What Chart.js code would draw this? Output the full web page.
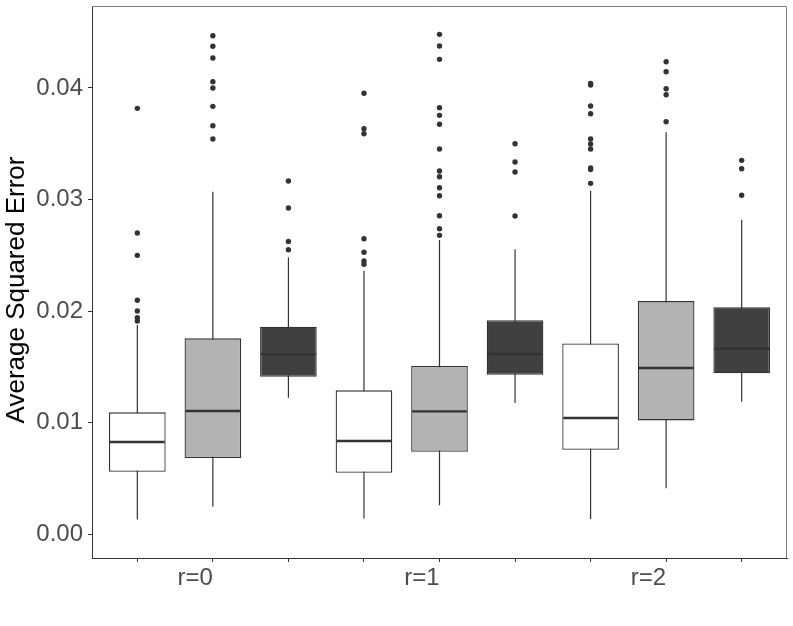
<!DOCTYPE html>
<html>
<head>
<meta charset="utf-8">
<script src="https://cdn.jsdelivr.net/npm/chart.js@4.4.1/dist/chart.umd.min.js"></script>
<style>
  html, body { margin: 0; padding: 0; background: #fff; }
  #wrap { width: 793px; height: 626px; }
</style>
</head>
<body>
<div id="wrap"><canvas id="boxChart" width="793" height="626"></canvas></div>
<script>
// box positions on the x axis, 3 boxes per group
const positions = [1, 2, 3, 4, 5, 6, 7, 8, 9];
const xTickLabels = ['', 'r=0', '', '', 'r=1', '', '', 'r=2', ''];
const yTicks = [0, 0.01, 0.02, 0.03, 0.04];
const yTitle = 'Average Squared Error';

// box statistics
const whiskerLow  = [0.00134, 0.00247, 0.01224, 0.00143, 0.00260, 0.01177, 0.00137, 0.00412, 0.01188];
const q1          = [0.00561, 0.00684, 0.01412, 0.00552, 0.00740, 0.01430, 0.00758, 0.01021, 0.01443];
const medians     = [0.00827, 0.01105, 0.01613, 0.00836, 0.01102, 0.01616, 0.01042, 0.01490, 0.01663];
const q3          = [0.01093, 0.01756, 0.01860, 0.01290, 0.01508, 0.01918, 0.01711, 0.02090, 0.02034];
const whiskerHigh = [0.01875, 0.03070, 0.02482, 0.02362, 0.02637, 0.02554, 0.03079, 0.03602, 0.02819];

// outliers per box
const outliers1 = [0.03817, 0.0270, 0.0250, 0.02097, 0.02001, 0.01941, 0.01911];
const outliers2 = [0.04468, 0.04373, 0.04268, 0.04056, 0.03999, 0.03835, 0.03661, 0.03542];
const outliers3 = [0.03166, 0.02924, 0.02625, 0.02550];
const outliers4 = [0.03952, 0.03634, 0.03590, 0.02649, 0.02527, 0.02450, 0.02420];
const outliers5 = [0.04480, 0.04375, 0.04256, 0.03823, 0.03754, 0.03674, 0.03453, 0.03256, 0.03204, 0.03106, 0.03034, 0.02855, 0.02738, 0.02679];
const outliers6 = [0.03500, 0.03336, 0.03246, 0.02852];
const outliers7 = [0.04041, 0.04026, 0.03838, 0.03769, 0.03542, 0.03497, 0.03453, 0.03282, 0.03268, 0.03145];
const outliers8 = [0.04235, 0.04145, 0.03993, 0.03939, 0.03697];
const outliers9 = [0.03351, 0.03276, 0.03038];
const allOutliers = [outliers1, outliers2, outliers3, outliers4, outliers5, outliers6, outliers7, outliers8, outliers9];

const palette = ['#ffffff', '#b3b3b3', '#404040'];
const lineColor = '#333333';
const fontFamily = "'Liberation Sans', Arial, Helvetica, sans-serif";

const boxData = positions.map((p, i) => ({ x: p, y: [q1[i], q3[i]] }));
const outlierData = [];
allOutliers.forEach((list, i) => {
    list.forEach(v => outlierData.push({ x: positions[i], y: v }));
});

// whiskers behind the boxes, medians on top, panel border, y title
const boxExtras = {
    id: 'boxExtras',
    beforeDatasetsDraw(chart) {
        const ctx = chart.ctx;
        const xs = chart.scales.x, ys = chart.scales.y;
        ctx.save();
        ctx.strokeStyle = lineColor;
        ctx.lineWidth = 1.2;
        positions.forEach((p, i) => {
            const x = xs.getPixelForValue(p);
            ctx.beginPath();
            ctx.moveTo(x, ys.getPixelForValue(whiskerLow[i]));
            ctx.lineTo(x, ys.getPixelForValue(whiskerHigh[i]));
            ctx.stroke();
        });
        ctx.restore();
    },
    afterDatasetsDraw(chart) {
        const ctx = chart.ctx;
        const ys = chart.scales.y;
        const bars = chart.getDatasetMeta(0).data;
        ctx.save();
        ctx.strokeStyle = lineColor;
        ctx.lineWidth = 2.4;
        bars.forEach((bar, i) => {
            const { x, width } = bar.getProps(['x', 'width'], true);
            const y = ys.getPixelForValue(medians[i]);
            ctx.beginPath();
            ctx.moveTo(x - width / 2 + 1, y);
            ctx.lineTo(x + width / 2 - 1, y);
            ctx.stroke();
        });
        const a = chart.chartArea;
        ctx.lineWidth = 1;
        ctx.strokeStyle = '#7f7f7f';
        ctx.beginPath();
        ctx.moveTo(a.left, a.top + 0.5);
        ctx.lineTo(a.right - 0.5, a.top + 0.5);
        ctx.lineTo(a.right - 0.5, a.bottom);
        ctx.stroke();

        // axis title, a bit below the panel centre like the original
        ctx.fillStyle = '#000000';
        ctx.font = '26px ' + fontFamily;
        ctx.textAlign = 'center';
        ctx.textBaseline = 'middle';
        ctx.translate(17, (a.top + a.bottom) / 2 + 8);
        ctx.rotate(-Math.PI / 2);
        ctx.fillText(yTitle, 0, 0);
        ctx.restore();
    }
};

new Chart(document.getElementById('boxChart'), {
    type: 'bar',
    data: {
        datasets: [{
            type: 'bar',
            data: boxData,
            backgroundColor: positions.map((p, i) => palette[i % 3]),
            borderColor: lineColor,
            borderWidth: 1.3,
            borderSkipped: false,
            categoryPercentage: 1,
            barPercentage: 0.75,
            order: 2
        }, {
            type: 'scatter',
            data: outlierData,
            pointRadius: 2.7,
            pointBackgroundColor: lineColor,
            pointBorderWidth: 0,
            showLine: false,
            order: 1
        }]
    },
    options: {
        responsive: false,
        animation: false,
        layout: { padding: { top: 6, right: 6, left: 0, bottom: 0 } },
        plugins: {
            legend: { display: false },
            tooltip: { enabled: false }
        },
        scales: {
            x: {
                type: 'linear',
                offset: false,
                min: 0.4,
                max: 9.6,
                afterBuildTicks: scale => { scale.ticks = positions.map(v => ({ value: v })); },
                afterFit: scale => {
                    scale.height = 68;
                    scale.paddingLeft = 0;
                    scale.paddingRight = 0;
                },
                grid: { offset: false, drawOnChartArea: false, drawTicks: true, tickLength: 4, color: lineColor },
                border: { display: true, color: lineColor, width: 1 },
                ticks: {
                    autoSkip: false,
                    maxRotation: 0,
                    align: 'end',
                    padding: 2,
                    color: '#4d4d4d',
                    font: { family: fontFamily, size: 24 },
                    callback: (value, index) => xTickLabels[index]
                }
            },
            y: {
                min: -0.00212,
                max: 0.04734,
                afterBuildTicks: scale => { scale.ticks = yTicks.map(v => ({ value: v })); },
                afterFit: scale => {
                    scale.width = 92;
                    scale.paddingTop = 0;
                    scale.paddingBottom = 0;
                },
                grid: { drawOnChartArea: false, drawTicks: true, tickLength: 4, color: lineColor },
                border: { display: true, color: lineColor, width: 1 },
                ticks: {
                    padding: 5,
                    color: '#4d4d4d',
                    font: { family: fontFamily, size: 24 },
                    callback: value => value.toFixed(2)
                }
            }
        }
    },
    plugins: [boxExtras]
});
</script>
</body>
</html>
